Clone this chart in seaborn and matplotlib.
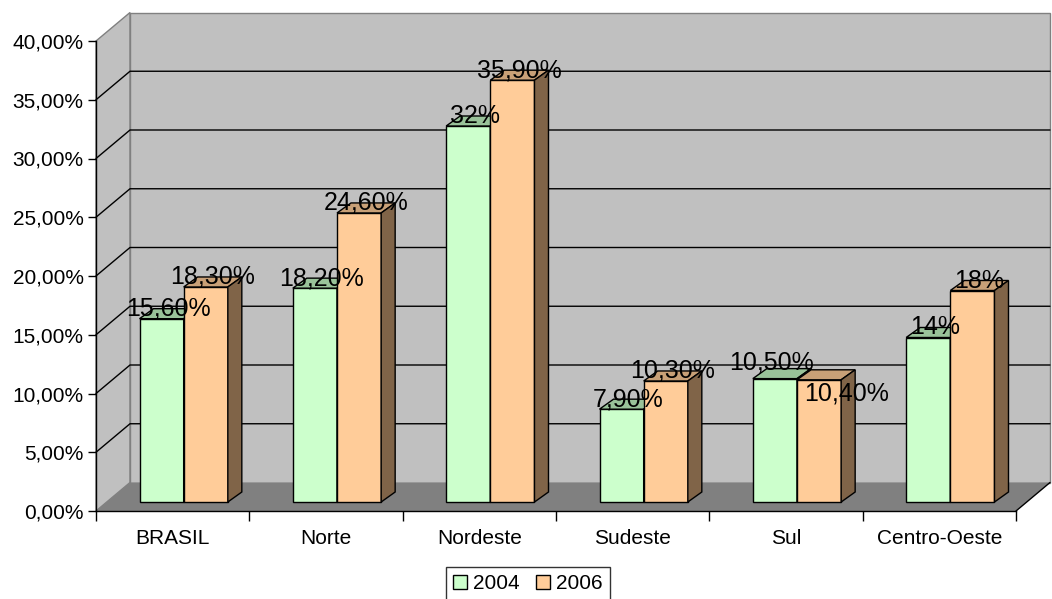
import pandas as pd
import matplotlib.pyplot as plt
from matplotlib.patches import Polygon, Patch
import seaborn as sns

# data
regioes = ['BRASIL', 'Norte', 'Nordeste', 'Sudeste', 'Sul', 'Centro-Oeste']
anos = ['2004', '2006']
v2004 = [15.6, 18.2, 32.0, 7.9, 10.5, 14.0]
v2006 = [18.3, 24.6, 35.9, 10.3, 10.4, 18.0]
yticks = [0, 5, 10, 15, 20, 25, 30, 35, 40]

df = pd.DataFrame({
    'regiao': regioes * 2,
    'ano': [anos[0]] * len(regioes) + [anos[1]] * len(regioes),
    'valor': v2004 + v2006,
})

sns.set_style('white')
plt.rcParams['font.family'] = ['Liberation Sans', 'DejaVu Sans']
plt.rcParams['text.color'] = 'black'
plt.rcParams['xtick.color'] = 'black'
plt.rcParams['ytick.color'] = 'black'

# colours (front, top, side)
cores = {
    '2004': ('#ccffcc', '#99c299', '#6f8f6f'),
    '2006': ('#ffcc99', '#c8a077', '#806448'),
}

# pixel -> data conversion for the fake 3D depth
CAT_PX = 920 / 6
PCT_PX = 470 / 40
WDX, WDY = 34 / CAT_PX, 28.5 / PCT_PX    # back wall offset
DXB, DYB = 11 / CAT_PX, 9 / PCT_PX       # bar plane offset
DDX, DDY = 14 / CAT_PX, 10 / PCT_PX      # bar depth


def fmt(v):
    if float(v).is_integer():
        return f'{int(v)}%'
    return f'{v:.2f}'.replace('.', ',') + '%'


fig = plt.figure(figsize=(10.52, 5.99), dpi=100)
ax = fig.add_axes([96 / 1052, 88 / 599, 920 / 1052, 470 / 599])
ax.set_facecolor('none')

n = len(regioes)
x0, x1 = -0.5, n - 0.5
ax.set_xlim(x0, x1)
ax.set_ylim(0, 40)

# walls and floor
ax.add_patch(Polygon([(x0, 0), (x0 + WDX, WDY), (x0 + WDX, 40 + WDY), (x0, 40)],
                     closed=True, facecolor='#c0c0c0', edgecolor='#808080', lw=1,
                     clip_on=False, zorder=0.5))
ax.add_patch(Polygon([(x0 + WDX, WDY), (x1 + WDX, WDY), (x1 + WDX, 40 + WDY), (x0 + WDX, 40 + WDY)],
                     closed=True, facecolor='#c0c0c0', edgecolor='#808080', lw=1,
                     clip_on=False, zorder=0.5))
ax.add_patch(Polygon([(x0, 0), (x1, 0), (x1 + WDX, WDY), (x0 + WDX, WDY)],
                     closed=True, facecolor='#808080', edgecolor='none',
                     clip_on=False, zorder=0.6))
ax.plot([x1, x1 + WDX], [0, WDY], color='black', lw=1, clip_on=False, zorder=0.7)
for t in yticks[1:-1]:
    ax.plot([x0, x0 + WDX, x1 + WDX], [t, t + WDY, t + WDY], color='black', lw=1,
            clip_on=False, zorder=0.7)

# bars
sns.barplot(data=df, x='regiao', y='valor', hue='ano', palette=[cores[a][0] for a in anos],
            width=0.576, edgecolor='black', linewidth=1, saturation=1, legend=False, ax=ax)

# label nudges in pixels (Excel moves the Sul labels apart)
nudges = {('Sul', '2004'): (-3, 9), ('Sul', '2006'): (27, -21)}

for i, (ano, cont) in enumerate(zip(anos, ax.containers)):
    front, top, side = cores[ano]
    z = 3 + i
    for reg, p in zip(regioes, cont):
        xl = p.get_x() + DXB
        w, h = p.get_width(), p.get_height()
        p.set_x(xl)
        p.set_y(DYB)
        p.set_zorder(z)
        yt = DYB + h
        ax.add_patch(Polygon([(xl, yt), (xl + w, yt), (xl + w + DDX, yt + DDY), (xl + DDX, yt + DDY)],
                             closed=True, facecolor=top, edgecolor='black', lw=1, zorder=z + 0.5))
        ax.add_patch(Polygon([(xl + w, DYB), (xl + w + DDX, DYB + DDY), (xl + w + DDX, yt + DDY), (xl + w, yt)],
                             closed=True, facecolor=side, edgecolor='black', lw=1, zorder=z + 0.5))
        nx, ny = nudges.get((reg, ano), (7, 3))
        ax.text(xl + w / 2 + nx / CAT_PX, yt + ny / PCT_PX, fmt(h), ha='center', va='baseline',
                fontsize=18, color='black', zorder=10)

# axes styling
for s in ['top', 'right']:
    ax.spines[s].set_visible(False)
for s in ['left', 'bottom']:
    ax.spines[s].set_color('black')
    ax.spines[s].set_linewidth(1)

ax.set_yticks(yticks)
ax.set_yticklabels([f'{t:.2f}'.replace('.', ',') + '%' for t in yticks])
ax.tick_params(axis='y', which='major', left=True, length=6, width=1, pad=3,
               labelsize=15, color='black', labelcolor='black')
ax.set_xticks(range(n))
ax.set_xticklabels(regioes)
ax.set_xticks([k - 0.5 for k in range(n + 1)], minor=True)
ax.tick_params(axis='x', which='major', length=0, pad=13, labelsize=15, labelcolor='black')
ax.tick_params(axis='x', which='minor', bottom=True, length=7, width=1, color='black')
ax.set_xlabel('')
ax.set_ylabel('')

handles = [Patch(facecolor=cores[a][0], edgecolor='black', lw=1) for a in anos]
leg = fig.legend(handles, anos, loc='upper center', bbox_to_anchor=(528 / 1052, 1 - 567 / 599),
                 ncol=2, frameon=True, fancybox=False, edgecolor='black', fontsize=15,
                 handlelength=0.65, handleheight=0.65, handletextpad=0.3, columnspacing=0.8,
                 borderpad=0.35, borderaxespad=0)
leg.get_frame().set_linewidth(1)
for t in leg.get_texts():
    t.set_color('black')

fig.savefig('out.png', dpi=100)
